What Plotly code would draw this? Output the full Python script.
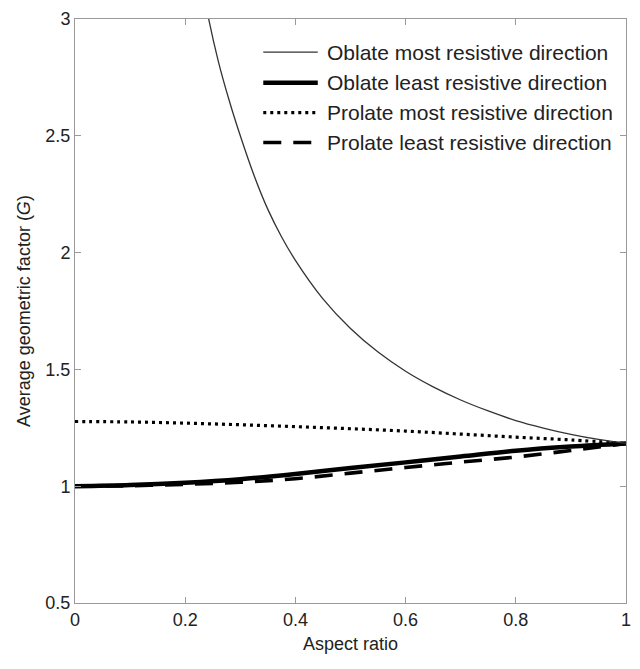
import plotly.graph_objects as go

# ---- data ----
ob_most_x = [0.22, 0.24, 0.26, 0.28, 0.30, 0.325, 0.35, 0.375, 0.40, 0.45, 0.50, 0.55, 0.60, 0.65, 0.70, 0.75, 0.80, 0.85, 0.90, 0.95, 1.00]
ob_most_g = [3.29, 3.03, 2.82, 2.65, 2.50, 2.33, 2.185, 2.067, 1.967, 1.802, 1.675, 1.574, 1.492, 1.425, 1.369, 1.322, 1.281, 1.249, 1.222, 1.200, 1.183]

ratio_x = [0.0, 0.1, 0.2, 0.3, 0.4, 0.5, 0.6, 0.7, 0.8, 0.9, 1.0]
ob_least_g = [1.0, 1.005, 1.015, 1.030, 1.052, 1.078, 1.102, 1.127, 1.152, 1.170, 1.183]
pr_most_g = [1.277, 1.275, 1.270, 1.263, 1.255, 1.246, 1.236, 1.223, 1.210, 1.198, 1.183]
pr_least_g = [1.0, 1.002, 1.008, 1.017, 1.032, 1.056, 1.080, 1.103, 1.125, 1.153, 1.183]

names = ["Oblate most resistive direction", "Oblate least resistive direction",
         "Prolate most resistive direction", "Prolate least resistive direction"]

x_ticks = [0, 0.2, 0.4, 0.6, 0.8, 1]
x_ticktext = ["0", "0.2", "0.4", "0.6", "0.8", "1"]
y_ticks = [0.5, 1, 1.5, 2, 2.5, 3]
y_ticktext = ["0.5", "1", "1.5", "2", "2.5", "3"]

# ---- styles ----
styles = [
    dict(color="#333333", width=1.3, dash="solid"),
    dict(color="#000000", width=4.5, dash="solid"),
    dict(color="#000000", width=3.2, dash="3px,4px"),
    dict(color="#000000", width=3.6, dash="18px,12px"),
]

FONT = "Liberation Sans, Arial, sans-serif"

fig = go.Figure()
fig.add_trace(go.Scatter(x=ratio_x, y=pr_least_g, mode="lines", line=dict(styles[3], shape="spline"), name=names[3]))
fig.add_trace(go.Scatter(x=ratio_x, y=ob_least_g, mode="lines", line=dict(styles[1], shape="spline"), name=names[1]))
fig.add_trace(go.Scatter(x=ratio_x, y=pr_most_g, mode="lines", line=dict(styles[2], shape="spline"), name=names[2]))
fig.add_trace(go.Scatter(x=ob_most_x, y=ob_most_g, mode="lines", line=dict(styles[0], shape="spline", smoothing=1.0), name=names[0]))

# ---- manual legend (decoration, paper coordinates) ----
leg_rows = [0.9434, 0.8907, 0.8397, 0.7886]
shapes = []
annotations = []
for name, st, yy in zip(names, styles, leg_rows):
    shapes.append(dict(type="line", xref="paper", yref="paper", x0=0.3417, x1=0.4406, y0=yy, y1=yy,
                       line=dict(color=st["color"], width=st["width"], dash=st["dash"])))
    annotations.append(dict(xref="paper", yref="paper", x=0.4532, y=yy, xanchor="left", yanchor="middle",
                            text=name, showarrow=False, font=dict(family=FONT, size=21, color="#222222")))

axis_common = dict(showline=True, linecolor="#9a9a9a", linewidth=1, mirror="ticks", ticks="inside",
                   ticklen=6, tickcolor="#9a9a9a", showgrid=False, zeroline=False,
                   tickfont=dict(family=FONT, size=18, color="#222222"))

fig.update_layout(
    width=640, height=669,
    margin=dict(l=75, r=9, t=15, b=66),
    plot_bgcolor="white", paper_bgcolor="white",
    showlegend=False,
    xaxis=dict(axis_common, range=[0, 1], tickvals=x_ticks, ticktext=x_ticktext,
               title=dict(text="Aspect ratio", font=dict(family=FONT, size=18, color="#222222"), standoff=8)),
    yaxis=dict(axis_common, range=[0.5, 3], tickvals=y_ticks, ticktext=y_ticktext,
               title=dict(text="Average geometric factor (<i>G</i>)", font=dict(family=FONT, size=18, color="#222222"), standoff=10)),
    shapes=shapes,
    annotations=annotations,
)

fig.write_html("out.html")
